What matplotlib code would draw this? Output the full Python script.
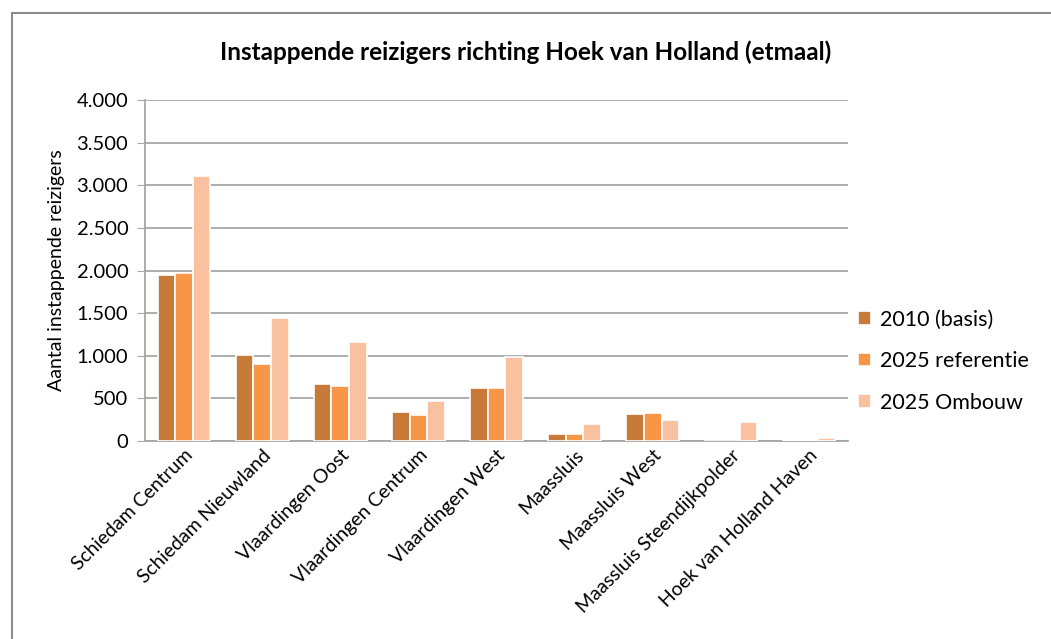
import numpy as np
import matplotlib
matplotlib.use("Agg")
import matplotlib.pyplot as plt
from matplotlib.patches import Rectangle

stations = ["Schiedam Centrum", "Schiedam Nieuwland", "Vlaardingen Oost",
            "Vlaardingen Centrum", "Vlaardingen West", "Maassluis",
            "Maassluis West", "Maassluis Steendijkpolder", "Hoek van Holland Haven"]
basis_2010 = [1950, 1005, 670, 340, 620, 80, 315, 0, 10]
referentie_2025 = [1975, 900, 650, 310, 620, 80, 325, 0, 10]
ombouw_2025 = [3105, 1440, 1165, 475, 990, 200, 245, 220, 40]
series_names = ["2010 (basis)", "2025 referentie", "2025 Ombouw"]
colors = ["#C87B39", "#F79646", "#F9C1A0"]
yticks = [0, 500, 1000, 1500, 2000, 2500, 3000, 3500, 4000]

plt.rcParams['font.family'] = ['Lato', 'DejaVu Sans']

fig = plt.figure(figsize=(10.51, 6.39), dpi=100)
ax = fig.add_axes([145/1051, 1-441/639, (848-145)/1051, (441-100)/639])

# grey frame around the chart
fig.patches.append(Rectangle((12/1051, -0.01), 1.02, 1-13/639+0.01,
                             transform=fig.transFigure, fill=False,
                             edgecolor="#8c8c8c", linewidth=1.5))

x = np.arange(len(stations))
w = 0.225
for i, vals in enumerate([basis_2010, referentie_2025, ombouw_2025]):
    ax.bar(x + (i - 1) * w, vals, width=w, color=colors[i],
           edgecolor="white", linewidth=1.2, label=series_names[i], zorder=3)

ax.set_xlim(-0.5, len(stations) - 0.5)
ax.set_ylim(0, 4000)
ax.set_yticks(yticks)
ax.set_yticklabels([f"{v:,}".replace(",", ".") for v in yticks], fontsize=14.5)
ax.yaxis.grid(True, color="#a6a6a6", linewidth=1.3, zorder=0)
ax.tick_params(axis="y", length=6, color="#a6a6a6", pad=6)
ax.tick_params(axis="x", length=0, pad=4)
ax.set_xticks(x)
ax.set_xticklabels(stations, rotation=45, ha="right", rotation_mode="anchor",
                   fontsize=14)
for s in ["top", "right"]:
    ax.spines[s].set_visible(False)
for s in ["left", "bottom"]:
    ax.spines[s].set_color("#a6a6a6")
    ax.spines[s].set_linewidth(1.3)

ax.set_ylabel("Aantal instappende reizigers", fontsize=14, labelpad=8)
fig.text(0.5, 1-52/639, "Instappende reizigers richting Hoek van Holland (etmaal)",
         ha="center", va="center", fontsize=17.5, fontweight="bold")

fig.legend(loc="center left", bbox_to_anchor=(858/1051, 1-361/639),
           frameon=False, fontsize=15.5, handlelength=0.6, handleheight=0.6,
           labelspacing=1.0, handletextpad=0.4, borderaxespad=0, borderpad=0)

fig.savefig("out.png", dpi=100)
